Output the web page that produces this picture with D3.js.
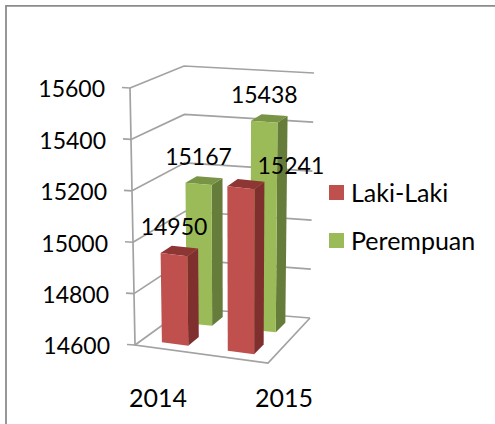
<!DOCTYPE html>
<html><head><meta charset="utf-8">
<script src="https://cdn.jsdelivr.net/npm/d3@7"></script>
<style>html,body{margin:0;padding:0;background:#fff}svg{display:block}text{font-family:Lato,"Open Sans",sans-serif;fill:#000}</style>
</head><body><svg id="c" width="495" height="424"></svg>
<script>
const categories = ["2014", "2015"];
const seriesNames = ["Laki-Laki", "Perempuan"];
const lakiLaki = [14950, 15241];
const perempuan = [15167, 15438];
const yTicks = [14600, 14800, 15000, 15200, 15400, 15600];
const seriesValues = [lakiLaki, perempuan];
const palette = [
  {front:"#C0504D", side:"#7F2F2D", top:"#8E3634"},
  {front:"#9BBB59", side:"#667C3A", top:"#7A9445"}
];

const svg = d3.select("#c");
const grid = "#A2A2A2";
const FS = 23, FS_BIG = 25;

// box corners of the 3-D plot: [u along front, d into depth]
const floor = {FL:[135,345], FR:[268,363], BL:[186,308], BR:[310,318]};
const ceil  = {FL:[130,88],  FR:[269,103], BL:[184,66],  BR:[314,73]};

const tScale = d3.scalePow().exponent(1.03).domain([14600,15600]).range([0,1]);
const uBand = d3.scaleBand().domain(categories).range([0,1]).paddingInner(0.6).paddingOuter(0.3);
const dBand = d3.scaleBand().domain(seriesNames).range([0,1]).paddingInner(0.56).paddingOuter(0.28);

function bil(q,u,d){
  const l=[q.FL[0]+(q.BL[0]-q.FL[0])*d, q.FL[1]+(q.BL[1]-q.FL[1])*d];
  const r=[q.FR[0]+(q.BR[0]-q.FR[0])*d, q.FR[1]+(q.BR[1]-q.FR[1])*d];
  return [l[0]+(r[0]-l[0])*u, l[1]+(r[1]-l[1])*u];
}
function P(u,d,value){
  const t=tScale(value), a=bil(floor,u,d), b=bil(ceil,u,d);
  return [a[0]+(b[0]-a[0])*t, a[1]+(b[1]-a[1])*t];
}
const line = d3.line();
const poly = pts => line(pts)+"Z";

// chart frame
svg.append("path").attr("d","M6,424V5.8H495").attr("fill","none").attr("stroke","#8C8C8C").attr("stroke-width",1.8);

// walls' grid lines
yTicks.forEach(v=>{
  svg.append("path").attr("d",line([P(0,0,v),P(0,1,v),P(1,1,v)]))
    .attr("fill","none").attr("stroke",grid).attr("stroke-width",1.7);
  const p=P(0,0,v);
  svg.append("line").attr("x1",p[0]-8).attr("y1",p[1]-0.5).attr("x2",p[0]).attr("y2",p[1])
    .attr("stroke",grid).attr("stroke-width",1.7);
  svg.append("text").attr("x",p[0]-25).attr("y",p[1]+1.2).attr("dy","0.36em")
    .attr("text-anchor","end").attr("font-size",FS).text(v);
});
// front edge of side wall and floor border
svg.append("path").attr("d",line([P(0,0,15600),P(0,0,14600),P(1,0,14600),P(1,1,14600)]))
  .attr("fill","none").attr("stroke",grid).attr("stroke-width",1.7);

// bars, back series first
const base = 14600;
[1,0].forEach(s=>{
  categories.forEach((cat,i)=>{
    const v=seriesValues[s][i], c=palette[s];
    const u0=uBand(cat), u1=u0+uBand.bandwidth();
    const d0=dBand(seriesNames[s]), d1=d0+dBand.bandwidth();
    const g=svg.append("g");
    g.append("path").attr("d",poly([P(u1,d0,base),P(u1,d1,base),P(u1,d1,v),P(u1,d0,v)])).attr("fill",c.side);
    g.append("path").attr("d",poly([P(u0,d0,v),P(u1,d0,v),P(u1,d1,v),P(u0,d1,v)])).attr("fill",c.top);
    g.append("path").attr("d",poly([P(u0,d0,base),P(u1,d0,base),P(u1,d0,v),P(u0,d0,v)])).attr("fill",c.front);
  });
});

// data labels above the bar tops
seriesValues.forEach((vals,s)=>{
  vals.forEach((v,i)=>{
    const cat=categories[i];
    const p=P(uBand(cat)+uBand.bandwidth()/2, dBand(seriesNames[s]), v);
    const shifted = s===0 && i===1;   // this label sits beside its bar
    svg.append("text").attr("x",p[0]+(shifted?50:0)).attr("y",p[1]+(shifted?-21.5:-27.5))
      .attr("dy","0.36em").attr("text-anchor","middle").attr("font-size",FS).text(v);
  });
});

// category labels
categories.forEach((cat,i)=>{
  svg.append("text").attr("x",[158,284][i]).attr("y",398).attr("dy","0.36em")
    .attr("text-anchor","middle").attr("font-size",FS_BIG).text(cat);
});

// legend
seriesNames.forEach((n,i)=>{
  const y=185+i*48;
  svg.append("rect").attr("x",329).attr("y",y).attr("width",15).attr("height",15).attr("fill",palette[i].front);
  svg.append("text").attr("x",351).attr("y",y+7.5).attr("dy","0.36em").attr("font-size",FS_BIG).text(n);
});
</script></body></html>
